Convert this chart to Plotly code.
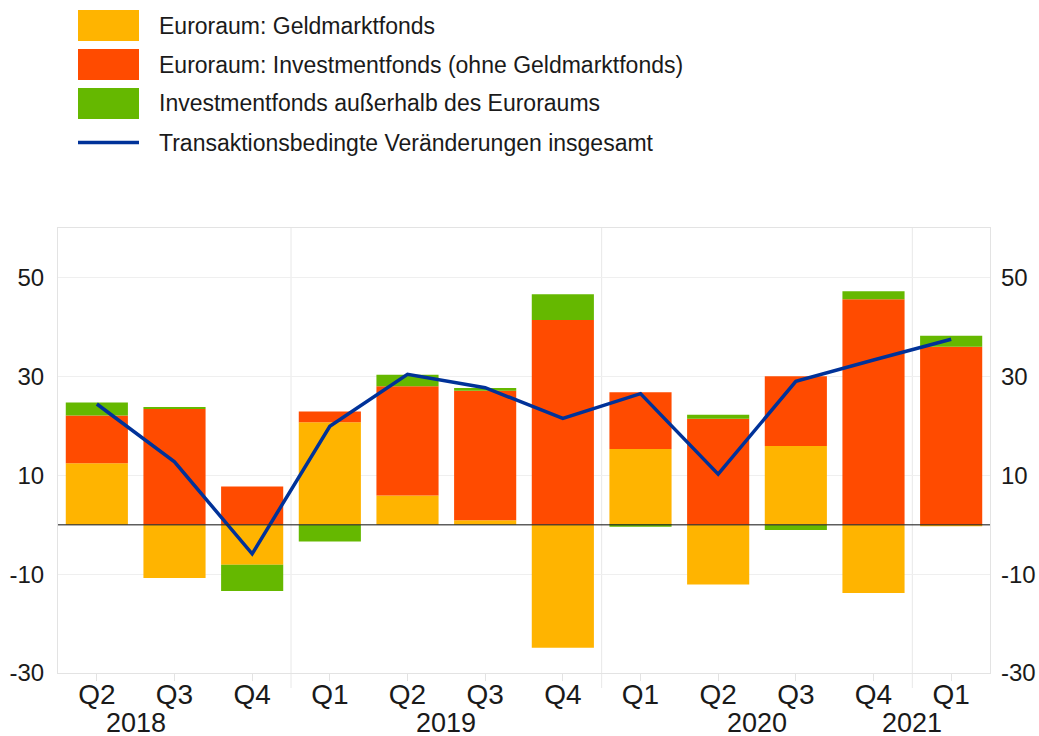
import plotly.graph_objects as go

# ---- data ----
quarters = ["Q2", "Q3", "Q4", "Q1", "Q2", "Q3", "Q4", "Q1", "Q2", "Q3", "Q4", "Q1"]
years = ["2018", "2019", "2020", "2021"]
year_label_pos = [0.5, 4.5, 8.5, 10.5]
year_boundaries = [2.5, 6.5, 10.5]

geldmarkt = [12.4, -10.8, -8.1, 20.7, 5.9, 0.9, -24.9, 15.3, -12.1, 15.9, -13.8, -0.3]
investment = [9.7, 23.4, 7.7, 2.2, 22.1, 26.2, 41.4, 11.5, 21.4, 14.1, 45.6, 36.0]
ausserhalb = [2.6, 0.2, -5.3, -3.4, 2.3, 0.55, 5.2, -0.4, 0.85, -1.1, 1.6, 2.2]
insgesamt = [24.4, 12.7, -5.9, 19.9, 30.4, 27.7, 21.5, 26.5, 10.2, 29.0, 33.3, 37.5]

names = [
    "Euroraum: Geldmarktfonds",
    "Euroraum: Investmentfonds (ohne Geldmarktfonds)",
    "Investmentfonds außerhalb des Euroraums",
    "Transaktionsbedingte Veränderungen insgesamt",
]
colors = ["#FFB400", "#FF4B00", "#65B800", "#003299"]

y_ticks = [-30, -10, 10, 30, 50]
y_ticktext = ["-30", "-10", "10", "30", "50"]
y_range = [-30, 60]

# ---- layout geometry (pixels) ----
W, H = 1039, 736
ML, MR, MT, MB = 58, 49, 228, 63
PW, PH = W - ML - MR, H - MT - MB


def px_x(x):
    return (x - ML) / PW


def px_y(y):
    return (H - MB - y) / PH


FONT = "Arial, 'Liberation Sans', sans-serif"
idx = list(range(len(quarters)))

fig = go.Figure()
for vals, nm, col in zip([geldmarkt, investment, ausserhalb], names[:3], colors[:3]):
    fig.add_trace(go.Bar(x=idx, y=vals, name=nm, marker=dict(color=col, line=dict(width=0)),
                         showlegend=False))

fig.add_trace(go.Scatter(x=idx, y=insgesamt, name=names[3], mode="lines",
                         line=dict(color=colors[3], width=3.5), yaxis="y2", showlegend=False))

# year boundary lines (extend below axis)
for b in year_boundaries:
    fig.add_shape(type="line", xref="x", yref="paper", x0=b, x1=b, y0=-15 / PH, y1=1,
                  line=dict(color="#e8e8e8", width=1), layer="below")

# zero line above bars
fig.add_shape(type="line", xref="paper", yref="y", x0=0, x1=1, y0=0, y1=0,
              line=dict(color="rgba(40,40,40,0.75)", width=1.5), layer="above")

# custom legend
row_centers = [25.5, 64.5, 103.5, 142.5]
for i, (nm, col) in enumerate(zip(names, colors)):
    yc = row_centers[i]
    if i < 3:
        fig.add_shape(type="rect", xref="paper", yref="paper",
                      x0=px_x(78), x1=px_x(139), y0=px_y(yc - 15.5), y1=px_y(yc + 15.5),
                      fillcolor=col, line=dict(width=0))
    else:
        fig.add_shape(type="line", xref="paper", yref="paper",
                      x0=px_x(78), x1=px_x(139), y0=px_y(yc), y1=px_y(yc),
                      line=dict(color=col, width=3.5))
    fig.add_annotation(x=px_x(157), y=px_y(yc), xref="paper", yref="paper", text=nm,
                       showarrow=False, xanchor="left", yanchor="middle",
                       font=dict(size=23, color="#1a1a1a", family=FONT))

# year labels
for yl, pos in zip(years, year_label_pos):
    fig.add_annotation(x=pos, y=0, xref="x", yref="paper", text=yl, showarrow=False,
                       xanchor="center", yanchor="middle", yshift=-50, borderpad=0,
                       font=dict(size=27, color="#1a1a1a", family=FONT))

fig.update_layout(
    width=W, height=H,
    margin=dict(l=ML, r=MR, t=MT, b=MB, autoexpand=False),
    paper_bgcolor="white", plot_bgcolor="white",
    barmode="relative", bargap=0.2,
    font=dict(family=FONT, color="#1a1a1a"),
    xaxis=dict(range=[-0.5, 11.5], tickmode="array", tickvals=idx, ticktext=quarters,
               showgrid=False, zeroline=False, showline=True, mirror=True,
               linecolor="#e3e3e3", linewidth=1, ticks="outside", ticklen=7,
               tickcolor="#e3e3e3", tickfont=dict(size=28, color="#1a1a1a"),
               ticklabelstandoff=-11, automargin=False),
    yaxis=dict(range=y_range, tickmode="array", tickvals=y_ticks, ticktext=y_ticktext,
               showgrid=True, gridcolor="#efefef",
               zeroline=False, showline=True, mirror=True, linecolor="#e3e3e3",
               ticks="", tickfont=dict(size=24, color="#1a1a1a"), ticklabelstandoff=8,
               automargin=False),
    yaxis2=dict(range=y_range, tickmode="array", tickvals=y_ticks, ticktext=y_ticktext,
                overlaying="y", side="right",
                showgrid=False, zeroline=False, showline=False, ticks="",
                tickfont=dict(size=24, color="#1a1a1a"), ticklabelstandoff=10,
                automargin=False),
)

fig.write_html("out.html", config={"displayModeBar": False},
               post_script="document.body.style.margin='0';document.body.style.padding='0';")
